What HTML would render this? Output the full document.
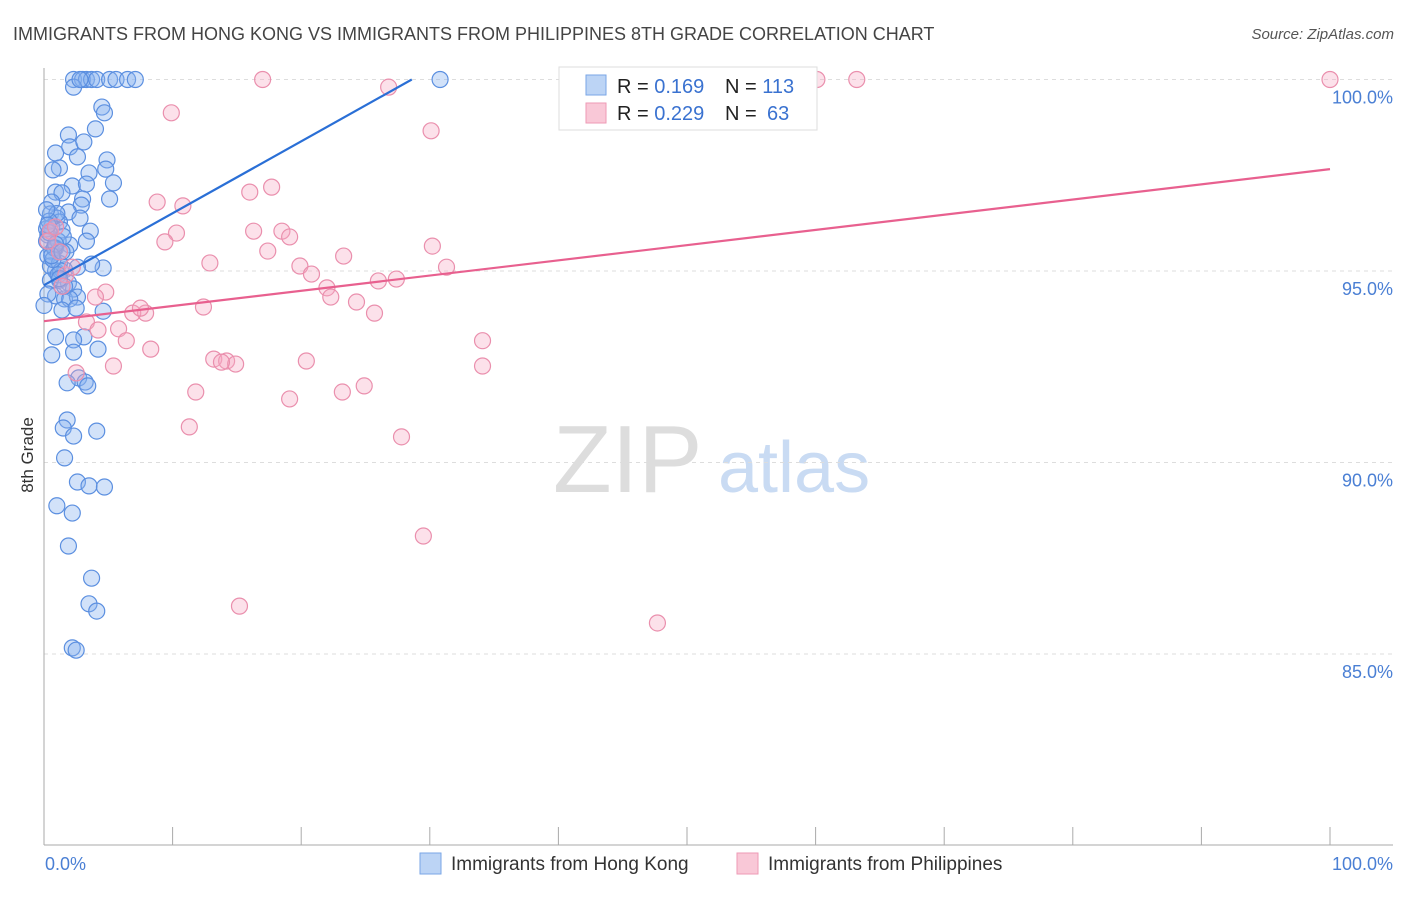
<!DOCTYPE html>
<html><head><meta charset="utf-8"><style>
body{margin:0;background:#fff;font-family:"Liberation Sans",sans-serif}
svg text{font-family:"Liberation Sans",sans-serif}
</style></head><body>
<svg id="chart" width="1406" height="892" xmlns="http://www.w3.org/2000/svg">
<text x="13" y="40" font-size="18" fill="#444">IMMIGRANTS FROM HONG KONG VS IMMIGRANTS FROM PHILIPPINES 8TH GRADE CORRELATION CHART</text>
<text x="1394" y="39" font-size="15" fill="#555" font-style="italic" text-anchor="end">Source: ZipAtlas.com</text>
<text transform="translate(33,455) rotate(-90)" font-size="17" fill="#333" text-anchor="middle">8th Grade</text>
<g>
<text x="553" y="492" font-size="96" fill="#ddd" font-family="Liberation Serif,serif">ZIP</text>
<text x="718" y="492" font-size="72" fill="#c9dbf3">atlas</text>
</g>
<g id="grid"></g><g id="axes"></g><g id="pts"></g><g id="lines"></g>
<g>
<rect x="559" y="67" width="258" height="63" fill="#fff" stroke="#ddd"/>
<rect x="586" y="75" width="20" height="20" fill="#bcd4f5" stroke="#7aa6e6"/>
<rect x="586" y="103" width="20" height="20" fill="#f9c8d7" stroke="#ee9ab5"/>
<text x="617" y="93" font-size="20" fill="#222">R = <tspan fill="#3a72d0">0.169</tspan><tspan x="725">N = </tspan><tspan fill="#3a72d0">113</tspan></text>
<text x="617" y="120" font-size="20" fill="#222">R = <tspan fill="#3a72d0">0.229</tspan><tspan x="725">N = </tspan><tspan fill="#3a72d0" x="767">63</tspan></text>
</g>
<g>
<rect x="420" y="853" width="21" height="21" fill="#bcd4f5" stroke="#7aa6e6"/>
<text x="451" y="870" font-size="19" fill="#333">Immigrants from Hong Kong</text>
<rect x="737" y="853" width="21" height="21" fill="#f9c8d7" stroke="#ee9ab5"/>
<text x="768" y="870" font-size="19" fill="#333">Immigrants from Philippines</text>
</g>
</svg>
<script>
const yTicks=[100,95,90,85];
const yTickLabels=["100.0%","95.0%","90.0%","85.0%"];
const xTickCount=10;
const hkX=[2.3,3.0,3.3,3.7,4.1,5.1,5.6,6.5,7.1,2.3,2.8,30.8,4.5,4.7,1.9,4.0,2.0,3.1,0.9,2.6,4.9,4.8,1.2,3.5,5.4,2.2,3.3,0.7,0.9,1.4,5.1,3.0,2.9,0.6,1.9,0.5,1.0,2.8,1.2,0.6,3.6,1.4,0.3,3.3,2.0,0.9,0.6,1.7,4.6,3.7,0.9,2.6,1.6,1.2,0.5,1.9,2.3,0.9,1.6,2.6,2.0,4.6,1.4,2.5,3.1,0.9,2.3,4.2,2.3,0.6,2.7,3.2,3.4,1.8,1.8,1.5,4.1,2.3,1.6,2.6,3.5,4.7,1.0,2.2,1.9,3.7,3.5,4.1,2.2,2.5,0.2,0.3,0.5,1.1,0.2,1.2,0.3,0,1.0,1.5,0.4,0.8,1.3,0.2,0.7,1.1,0.4,0.9,1.6,0.3,0.6,1.2,1.4];
const hkY=[100,100,100,100,100,100,100,100,100,99.8,100,100,99.28,99.13,98.55,98.71,98.24,98.37,98.08,97.98,97.90,97.66,97.69,97.56,97.30,97.22,97.27,97.64,97.06,97.04,96.88,96.88,96.72,96.80,96.54,96.49,96.38,96.38,96.28,96.15,96.04,96.07,95.94,95.78,95.68,95.60,95.50,95.50,95.08,95.18,95.00,95.10,95.03,94.76,94.76,94.69,94.53,94.35,94.27,94.32,94.27,93.95,93.98,94.03,93.28,93.28,93.20,92.96,92.88,92.81,92.21,92.10,92.00,92.08,91.11,90.90,90.82,90.69,90.12,89.49,89.39,89.36,88.87,88.68,87.82,86.98,86.31,86.12,85.16,85.10,95.78,95.39,95.13,95.78,96.10,95.20,94.40,94.10,96.50,95.90,96.30,95.60,95.00,96.60,95.30,94.90,96.00,95.70,94.60,96.20,95.40,94.80,95.50];
const phX=[17.0,60.1,63.2,100,26.8,9.9,30.1,17.7,16.0,8.8,10.8,16.3,18.5,10.3,19.1,9.4,30.2,17.4,23.3,12.9,19.9,31.3,20.8,26.0,27.4,22.0,22.3,24.3,4.8,4.0,12.4,25.7,7.9,6.9,3.3,7.5,5.8,4.2,6.4,34.1,8.3,13.2,14.2,14.9,13.8,20.4,34.1,5.4,2.5,24.9,23.2,11.8,19.1,11.3,27.8,29.5,15.2,47.7,0.5,0.9,0.3,1.2,1.7,2.2,1.4];
const phY=[100,100,100,100,99.80,99.13,98.66,97.19,97.06,96.80,96.70,96.04,96.04,95.99,95.89,95.76,95.65,95.52,95.39,95.21,95.13,95.10,94.92,94.74,94.79,94.56,94.32,94.19,94.45,94.32,94.06,93.90,93.90,93.90,93.67,94.03,93.49,93.46,93.18,93.18,92.96,92.70,92.65,92.57,92.62,92.65,92.52,92.52,92.34,92.00,91.84,91.84,91.66,90.93,90.67,88.08,86.25,85.81,96.04,96.15,95.78,95.50,94.90,95.10,94.60];
const hkLine=[94.63,100];   // y at x=0, y at x=28.6
const hkLineX=[0,28.6];
const phLine=[93.69,97.66]; // y at x=0 and x=100
const phLineX=[0,100];
const NS="http://www.w3.org/2000/svg";
const X0=44,X1=1330,YTOP=79.5,PER5=191.5;
const sx=v=>X0+(X1-X0)*v/100;
const sy=v=>YTOP+(100-v)/5*PER5;
function mk(tag,attrs,parent){const e=document.createElementNS(NS,tag);for(const k in attrs)e.setAttribute(k,attrs[k]);parent.appendChild(e);return e;}
const grid=document.getElementById('grid'),axes=document.getElementById('axes'),pts=document.getElementById('pts'),lines=document.getElementById('lines');
yTicks.forEach((t,i)=>{
 const l=mk('line',{x1:X0,x2:1393,y1:sy(t),y2:sy(t),stroke:'#ddd','stroke-dasharray':'4,4'},grid);
 
 
 const tx=mk('text',{x:1393,y:sy(t)+24,'font-size':18,fill:'#4a7fd4','text-anchor':'end'},grid);
 tx.textContent=yTickLabels[i];
 
 
});
const ya=mk('line',{x1:X0,x2:X0,y1:68,y2:845,stroke:'#aaa'},axes);


const xa=mk('line',{x1:X0,x2:1393,y1:845,y2:845,stroke:'#aaa'},axes);


for(let i=0;i<=xTickCount;i++){
 const v=i*100/xTickCount;
 const t=mk('line',{x1:sx(v),x2:sx(v),y1:827,y2:845,stroke:'#aaa'},axes);
 
 
}
const xl0=mk('text',{x:45,y:870,'font-size':18,fill:'#4a7fd4'},axes);xl0.textContent='0.0%';


const xl1=mk('text',{x:1393,y:870,'font-size':18,fill:'#4a7fd4','text-anchor':'end'},axes);xl1.textContent='100.0%';


hkX.forEach((x,i)=>{
 const c=mk('circle',{cx:sx(x),cy:sy(hkY[i]),r:8,fill:'rgba(138,180,240,0.38)',stroke:'#5b8fe0','stroke-width':1.2},pts);
 
 
});
phX.forEach((x,i)=>{
 const c=mk('circle',{cx:sx(x),cy:sy(phY[i]),r:8,fill:'rgba(245,170,195,0.35)',stroke:'#ea8fad','stroke-width':1.2},pts);
 
 
});
const l1=mk('line',{x1:sx(hkLineX[0]),y1:sy(hkLine[0]),x2:sx(hkLineX[1]),y2:sy(hkLine[1]),stroke:'#2a6fd6','stroke-width':2.2},lines);


const l2=mk('line',{x1:sx(phLineX[0]),y1:sy(phLine[0]),x2:sx(phLineX[1]),y2:sy(phLine[1]),stroke:'#e8608f','stroke-width':2.2},lines);


</script>
</body></html>
